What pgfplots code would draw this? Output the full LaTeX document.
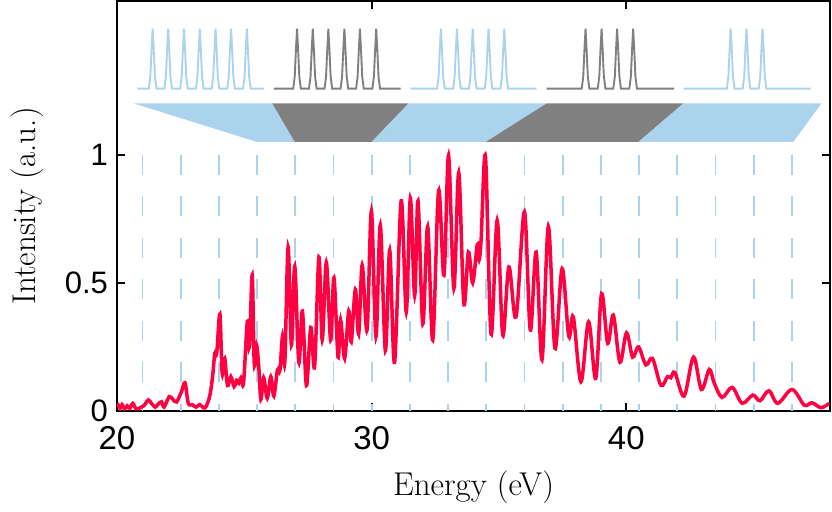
\documentclass[border=0pt]{standalone}
\usepackage{pgfplots}
\pgfplotsset{compat=1.18}
\usepackage{fontspec}
\newfontfamily\helv{Liberation Sans}
\definecolor{myred}{RGB}{255,0,64}
\definecolor{lblue}{RGB}{171,211,238}
\definecolor{mgray}{RGB}{128,128,128}
\begin{document}
\begin{tikzpicture}
\path[use as bounding box] (-58.5pt,-50.5pt) rectangle (357.5pt,205.5pt);
\begin{axis}[
  at={(0pt,0pt)}, anchor=south west,
  scale only axis, width=356.5pt, height=205pt,
  xmin=20, xmax=48, ymin=0, ymax=1.6,
  xtick={20,30,40}, ytick={0,0.5,1},
  tick align=inside, major tick length=4pt,
  axis line style={line width=1pt},
  every tick/.style={black, line width=1pt},
  /pgf/number format/assume math mode=true,
  xticklabel style={font=\fontsize{16.5}{18}\selectfont\helv, yshift=-4pt},
  yticklabel style={font=\fontsize{15.5}{17}\selectfont\helv, xshift=-1pt},
  label style={font=\fontsize{16.5}{19}\selectfont},
  xlabel={Energy (eV)}, ylabel={Intensity (a.u.)},
  xlabel style={at={(axis description cs:0.5,-0.185)}, anchor=center},
  ylabel style={at={(axis description cs:-0.126,0.5)}, anchor=center},
]
% harmonic positions
\pgfplotsinvokeforeach{21,22.5,24,25.5,27,28.5,30,31.5,33,34.5,36,37.5,39,40.5,42,43.5,45,46.5}{
  \addplot[lblue, line width=0.9pt, dash pattern=on 10pt off 10.75pt] coordinates {(#1,1) (#1,0)};
}
% bands
\addplot[fill=lblue, draw=none] coordinates {(20.67,1.2) (26.1,1.2) (26.98,1.05) (25.5,1.05)};
\addplot[fill=mgray, draw=none] coordinates {(26.1,1.2) (31.45,1.2) (30,1.05) (26.98,1.05)};
\addplot[fill=lblue, draw=none] coordinates {(31.45,1.2) (36.87,1.2) (34.48,1.05) (30,1.05)};
\addplot[fill=mgray, draw=none] coordinates {(36.87,1.2) (42.24,1.2) (40.48,1.05) (34.48,1.05)};
\addplot[fill=lblue, draw=none] coordinates {(42.24,1.2) (47.66,1.2) (46.56,1.05) (40.48,1.05)};
% spectra
\addplot[lblue, line width=0.95pt] coordinates {(20.8,1.258)
 (21.25,1.258)(21.31,1.305)(21.355,1.405)(21.40,1.492)(21.445,1.405)(21.49,1.305)(21.55,1.258)
 (21.86,1.258)(21.92,1.305)(21.965,1.405)(22.01,1.492)(22.055,1.405)(22.10,1.305)(22.16,1.258)
 (22.48,1.258)(22.54,1.305)(22.585,1.405)(22.63,1.492)(22.675,1.405)(22.72,1.305)(22.78,1.258)
 (23.10,1.258)(23.16,1.305)(23.205,1.405)(23.25,1.492)(23.295,1.405)(23.34,1.305)(23.40,1.258)
 (23.72,1.258)(23.78,1.305)(23.825,1.405)(23.87,1.492)(23.915,1.405)(23.96,1.305)(24.02,1.258)
 (24.33,1.258)(24.39,1.305)(24.435,1.405)(24.48,1.492)(24.525,1.405)(24.57,1.305)(24.63,1.258)
 (24.95,1.258)(25.01,1.305)(25.055,1.405)(25.10,1.492)(25.145,1.405)(25.19,1.305)(25.25,1.258)
 (25.77,1.258)};
\addplot[mgray, line width=0.95pt] coordinates {(26.16,1.258)
 (26.92,1.258)(26.98,1.305)(27.025,1.405)(27.07,1.492)(27.115,1.405)(27.16,1.305)(27.22,1.258)
 (27.54,1.258)(27.60,1.305)(27.645,1.405)(27.69,1.492)(27.735,1.405)(27.78,1.305)(27.84,1.258)
 (28.15,1.258)(28.21,1.305)(28.255,1.405)(28.30,1.492)(28.345,1.405)(28.39,1.305)(28.45,1.258)
 (28.78,1.258)(28.84,1.305)(28.885,1.405)(28.93,1.492)(28.975,1.405)(29.02,1.305)(29.08,1.258)
 (29.39,1.258)(29.45,1.305)(29.495,1.405)(29.54,1.492)(29.585,1.405)(29.63,1.305)(29.69,1.258)
 (30.03,1.258)(30.09,1.305)(30.135,1.405)(30.18,1.492)(30.225,1.405)(30.27,1.305)(30.33,1.258)
 (31.14,1.258)};
\addplot[lblue, line width=0.95pt] coordinates {(31.53,1.258)
 (32.57,1.258)(32.63,1.305)(32.675,1.405)(32.72,1.492)(32.765,1.405)(32.81,1.305)(32.87,1.258)
 (33.20,1.258)(33.26,1.305)(33.305,1.405)(33.35,1.492)(33.395,1.405)(33.44,1.305)(33.50,1.258)
 (33.82,1.258)(33.88,1.305)(33.925,1.405)(33.97,1.492)(34.015,1.405)(34.06,1.305)(34.12,1.258)
 (34.44,1.258)(34.50,1.305)(34.545,1.405)(34.59,1.492)(34.635,1.405)(34.68,1.305)(34.74,1.258)
 (35.06,1.258)(35.12,1.305)(35.165,1.405)(35.21,1.492)(35.255,1.405)(35.30,1.305)(35.36,1.258)
 (36.48,1.258)};
\addplot[mgray, line width=0.95pt] coordinates {(36.87,1.258)
 (38.25,1.258)(38.31,1.305)(38.355,1.405)(38.40,1.492)(38.445,1.405)(38.49,1.305)(38.55,1.258)
 (38.88,1.258)(38.94,1.305)(38.985,1.405)(39.03,1.492)(39.075,1.405)(39.12,1.305)(39.18,1.258)
 (39.49,1.258)(39.55,1.305)(39.595,1.405)(39.64,1.492)(39.685,1.405)(39.73,1.305)(39.79,1.258)
 (40.12,1.258)(40.18,1.305)(40.225,1.405)(40.27,1.492)(40.315,1.405)(40.36,1.305)(40.42,1.258)
 (41.88,1.258)};
\addplot[lblue, line width=0.95pt] coordinates {(42.25,1.258)
 (43.95,1.258)(44.01,1.305)(44.055,1.405)(44.10,1.492)(44.145,1.405)(44.19,1.305)(44.25,1.258)
 (44.57,1.258)(44.63,1.305)(44.675,1.405)(44.72,1.492)(44.765,1.405)(44.81,1.305)(44.87,1.258)
 (45.20,1.258)(45.26,1.305)(45.305,1.405)(45.35,1.492)(45.395,1.405)(45.44,1.305)(45.50,1.258)
 (47.24,1.258)};
% measured spectrum
\addplot[myred, line width=1.75pt, smooth, tension=0.55] coordinates {
 (20.0,0.03)(20.05,0.023)(20.12,0.01)(20.2,0.025)(20.3,0.008)(20.4,0.02)(20.5,0.01)
 (20.62,0.03)(20.75,0.008)(20.9,0.012)(21.05,0.02)(21.23,0.043)(21.35,0.03)(21.5,0.015)
 (21.6,0.025)(21.75,0.036)(21.85,0.015)(22.05,0.056)(22.2,0.045)(22.34,0.035)(22.53,0.075)
 (22.67,0.11)(22.8,0.03)(22.95,0.025)(23.1,0.015)(23.25,0.025)(23.4,0.012)(23.5,0.018)
 (23.65,0.062)(23.76,0.14)(23.84,0.225)(23.92,0.23)(24.04,0.378)(24.13,0.147)(24.23,0.205)
 (24.34,0.1)(24.47,0.134)(24.6,0.095)(24.7,0.12)(24.78,0.108)(24.87,0.13)(24.97,0.11)
 (25.12,0.35)(25.2,0.25)(25.31,0.53)(25.39,0.186)(25.48,0.257)(25.57,0.17)(25.65,0.045)
 (25.76,0.13)(25.9,0.05)(26.04,0.134)(26.16,0.058)(26.3,0.16)(26.4,0.16)(26.5,0.29)
 (26.59,0.19)(26.72,0.64)(26.85,0.257)(26.98,0.565)(27.14,0.19)(27.28,0.39)(27.44,0.1)
 (27.61,0.326)(27.76,0.173)(27.93,0.6)(28.06,0.277)(28.22,0.58)(28.39,0.277)(28.52,0.52)
 (28.68,0.21)(28.78,0.355)(28.94,0.205)(29.1,0.39)(29.2,0.27)(29.36,0.474)(29.49,0.30)
 (29.63,0.57)(29.82,0.316)(29.99,0.78)(30.17,0.29)(30.34,0.725)(30.54,0.235)(30.71,0.627)
 (30.9,0.19)(31.16,0.82)(31.36,0.387)(31.52,0.83)(31.69,0.45)(31.82,0.82)(32.01,0.34)
 (32.2,0.72)(32.4,0.277)(32.63,0.86)(32.84,0.53)(33.02,0.997)(33.23,0.478)(33.42,0.93)
 (33.62,0.42)(33.8,0.62)(33.97,0.5)(34.15,0.65)(34.22,0.59)(34.3,0.67)(34.47,0.993)
 (34.69,0.30)(34.93,0.744)(35.15,0.296)(35.39,0.562)(35.67,0.367)(36.0,0.777)(36.23,0.316)
 (36.46,0.62)(36.69,0.2)(36.94,0.72)(37.2,0.244)(37.48,0.556)(37.74,0.292)(37.92,0.367)
 (38.22,0.114)(38.52,0.348)(38.8,0.127)(39.03,0.458)(39.27,0.264)(39.49,0.374)(39.75,0.19)
 (40.01,0.305)(40.25,0.21)(40.48,0.25)(40.77,0.18)(41.03,0.205)(41.36,0.10)(41.62,0.134)
 (41.75,0.13)(41.91,0.15)(42.27,0.058)(42.64,0.21)(42.95,0.084)(43.26,0.162)(43.45,0.11)
 (43.76,0.053)(44.16,0.092)(44.55,0.03)(44.97,0.062)(45.25,0.04)(45.6,0.079)(45.95,0.03)
 (46.51,0.084)(46.99,0.023)(47.29,0.032)(47.65,0.013)(47.97,0.03)};
\end{axis}
\end{tikzpicture}
\end{document}
